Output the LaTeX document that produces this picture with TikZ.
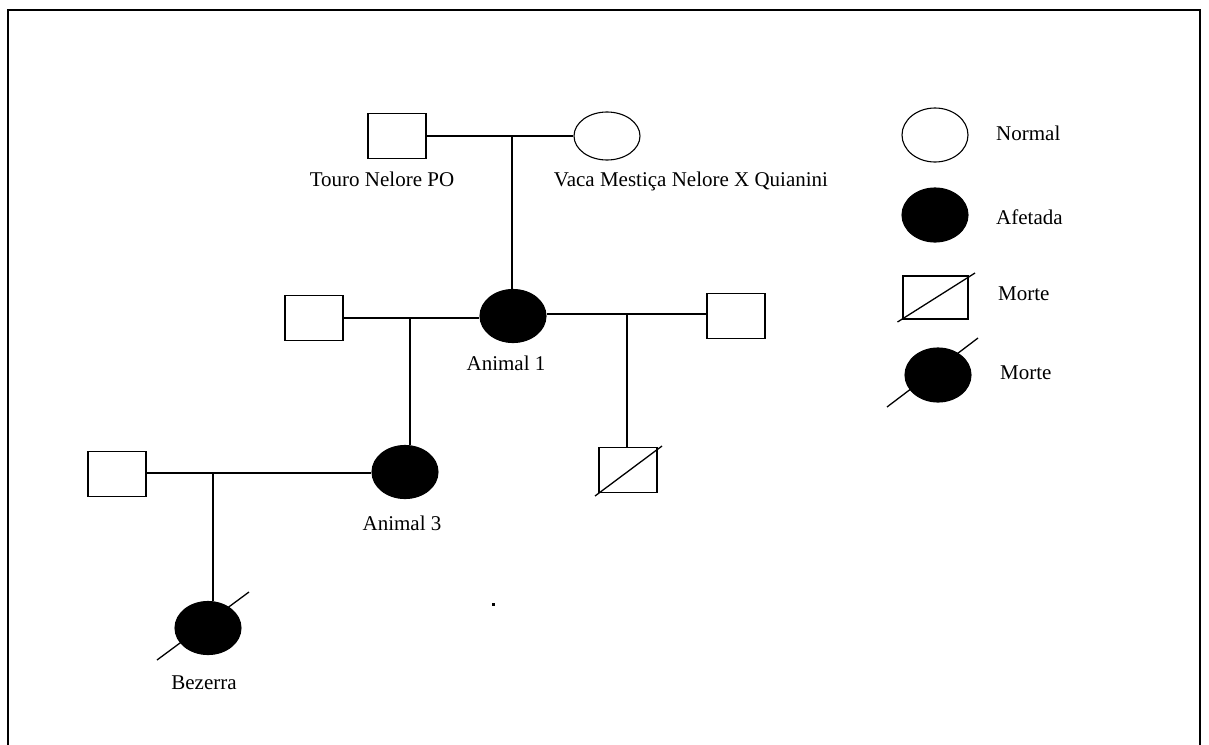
\documentclass[tikz,border=0pt]{standalone}
\usepackage{fontspec}
\setmainfont{Liberation Serif}
\usetikzlibrary{shapes.geometric,calc}
\begin{document}
\begin{tikzpicture}[x=1pt,y=-1pt,
  male/.style={draw,line width=1.3pt,rectangle,minimum width=58pt,minimum height=45pt,inner sep=0pt},
  fem/.style={draw,line width=1.1pt,ellipse,minimum width=66pt,minimum height=48pt,inner sep=0pt},
  aff/.style={fem,fill=black,minimum height=53pt},
  lab/.style={font=\fontsize{21}{24}\selectfont,inner sep=0pt},
  link/.style={line width=1.3pt},
  slash/.style={line width=1.3pt}]
\useasboundingbox (0,0) rectangle (1209,744);
% frame
\draw[line width=2pt] (8,746) -- (8,10) -- (1200,10) -- (1200,746);
% generation 0
\node[male] (touro) at (397,136) {};
\node[fem] (vaca) at (607,136) {};
\node[lab] (ltouro) at (382,179) {Touro Nelore PO};
\node[lab] (lvaca) at (691,181) {Vaca Mestiça Nelore X Quianini};
\draw[link] (touro.east) -- (vaca.west);
\coordinate (j0) at (512,136);
% generation 1
\node[aff] (a1) at (513,316) {};
\node[lab] (la1) at (506,363) {Animal 1};
\draw[link] (j0) -- (j0 |- a1.north);
\node[male] (m1) at (314,318) {};
\node[male] (m2) at (736,316) {};
\draw[link] (m1.east) -- (m1.east -| a1.west);
\draw[link] (a1.east |- 0,314) -- (m2.west |- 0,314);
\coordinate (j1) at (410,317);
\coordinate (j2) at (627,314);
% generation 2
\node[aff] (a3) at (405,472) {};
\node[lab] (la3) at (402,523) {Animal 3};
\draw[link] (j1) -- (j1 |- a3.north);
\node[male] (dead) at (628,470) {};
\draw[slash] ($(dead.center)+(-33,26)$) -- ($(dead.center)+(34,-24)$);
\draw[link] (j2) -- (j2 |- dead.north);
\node[male] (m3) at (117,474) {};
\draw[link] (m3.east |- 0,473) -- (a3.west |- 0,473);
\coordinate (j3) at (213,473);
% generation 3
\node[aff] (bez) at (208,628) {};
\draw[slash] ($(bez.center)+(-51,32)$) -- ($(bez.center)+(41,-36)$);
\node[lab] (lbez) at (204,683) {Bezerra};
\draw[link] (j3) -- (j3 |- bez.north);
% stray dot
\fill (491.5,602.5) rectangle (494.5,605.5);
% legend
\node[fem,minimum height=54pt] (k1) at (935,135) {};
\node[lab,anchor=west] (t1) at (996,133) {Normal};
\node[aff,minimum height=54pt] (k2) at (935,215) {};
\node[lab,anchor=west] (t2) at (996,217) {Afetada};
\node[male,minimum width=65pt,minimum height=43pt] (k3) at (935.5,297.5) {};
\draw[slash] ($(k3.center)+(-38,24.5)$) -- ($(k3.center)+(39.5,-24.5)$);
\node[lab,anchor=west] (t3) at (998,294) {Morte};
\node[aff,minimum height=54pt] (k4) at (938,375) {};
\draw[slash] ($(k4.center)+(-51,32)$) -- ($(k4.center)+(40,-37)$);
\node[lab,anchor=west] (t4) at (1000,373) {Morte};
\end{tikzpicture}
\end{document}
